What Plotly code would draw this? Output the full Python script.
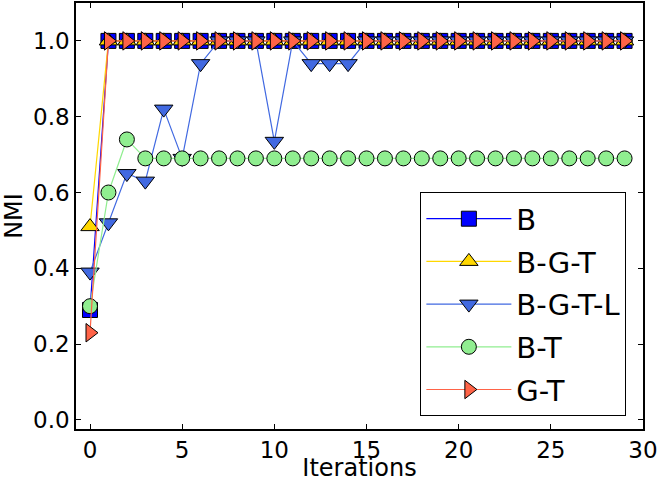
import plotly.graph_objects as go

iterations = list(range(30))
names = ["B", "B-G-T", "B-G-T-L", "B-T", "G-T"]

nmi_B = [0.29] + [1.0] * 29
nmi_BGT = [0.51] + [1.0] * 29
nmi_BGTL = [0.39, 0.52, 0.65, 0.63, 0.82, 0.69, 0.94, 1.0, 1.0, 1.0,
            0.735, 1.0, 0.94, 0.94, 0.94] + [1.0] * 15
nmi_BT = [0.30, 0.60, 0.74] + [0.69] * 27
nmi_GT = [0.23] + [1.0] * 29

series = [nmi_B, nmi_BGT, nmi_BGTL, nmi_BT, nmi_GT]
colors = ["#0000FF", "#FFD700", "#4169E1", "#90EE90", "#FF6347"]
symbols = ["square", "triangle-up", "triangle-down", "circle", "triangle-right"]
sizes = [15, 16, 16, 15, 16]

fig = go.Figure()
for i, (nm, ys) in enumerate(zip(names, series)):
    fig.add_trace(go.Scatter(
        x=iterations, y=ys, name=nm, mode="lines+markers",
        legendgroup=nm,
        line=dict(color=colors[i], width=1.2),
        marker=dict(symbol=symbols[i], size=sizes[i], color=colors[i],
                    line=dict(color="black", width=1)),
        cliponaxis=False,
    ))

font = "DejaVu Sans"
axis_common = dict(
    showline=True, linecolor="black", linewidth=1.5, mirror="ticks",
    ticks="inside", ticklen=5, tickcolor="black", tickwidth=1,
    showgrid=False, zeroline=False, automargin=False,
    tickfont=dict(family=font, size=23, color="black"),
)
fig.update_layout(
    width=662, height=482,
    margin=dict(l=76, r=19, t=3, b=53, autoexpand=False),
    paper_bgcolor="white", plot_bgcolor="white",
    xaxis=dict(range=[-0.76, 30], tickvals=[0, 5, 10, 15, 20, 25, 30],
               title=dict(text="Iterations", font=dict(family=font, size=24, color="black"),
                          standoff=0),
               **axis_common),
    yaxis=dict(range=[-0.024, 1.1], tickvals=[0.0, 0.2, 0.4, 0.6, 0.8, 1.0],
               tickformat=".1f",
               title=dict(text="NMI", font=dict(family=font, size=24, color="black"),
                          standoff=4),
               **axis_common),
    legend=dict(x=0.607, y=0.556, xanchor="left", yanchor="top",
                bordercolor="black", borderwidth=1.2, bgcolor="white",
                font=dict(family=font, size=29, color="black"),
                tracegroupgap=2, itemwidth=85),
    showlegend=True,
)
fig.write_html("out.html", config={"displayModeBar": False},
               post_script="document.body.style.margin='0';")
